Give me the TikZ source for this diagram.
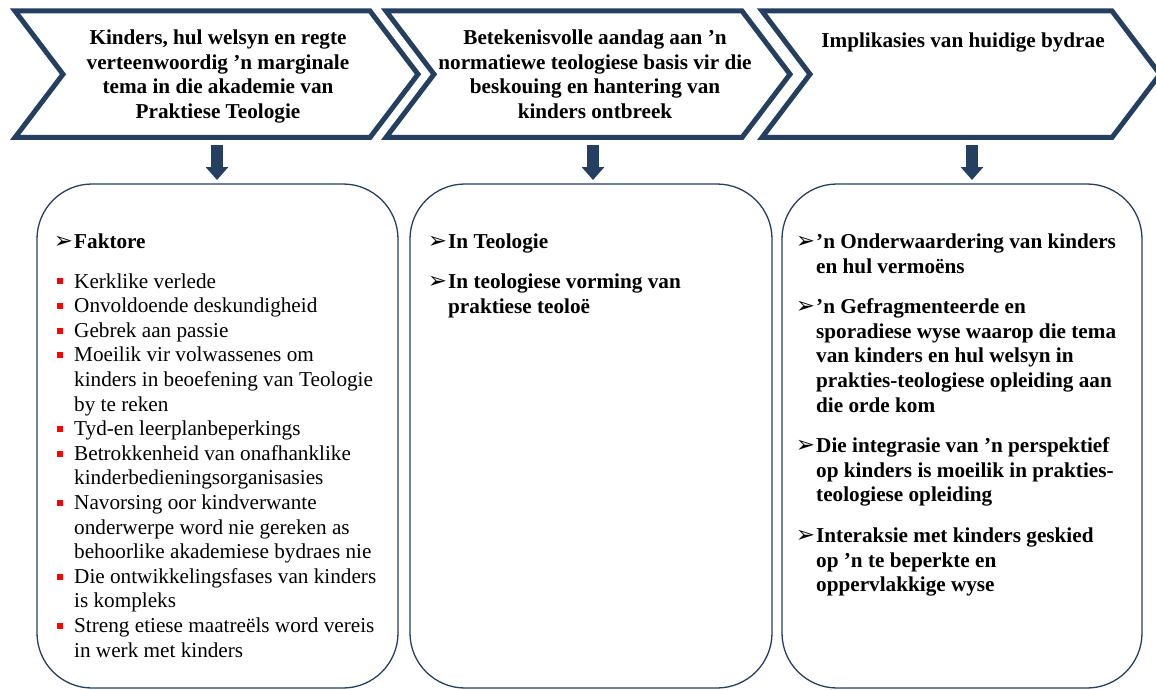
\documentclass[tikz,border=0pt]{standalone}
\usepackage{fontspec}
\setmainfont{Liberation Serif}
\newfontfamily\symfont{DejaVu Sans}
\usetikzlibrary{arrows.meta}
\definecolor{navy}{RGB}{36,63,96}
\definecolor{bulred}{RGB}{255,0,0}
\newcommand\arrbul{\leavevmode\llap{{\symfont\fontsize{23}{23}\selectfont ➢}\hspace{1pt}}}
\newcommand\sqbul{\leavevmode\llap{\textcolor{bulred}{\rule[3.8pt]{6pt}{6pt}}\hspace{11pt}}}
\newcommand\bodyfont{\fontsize{21.2}{24.6}\selectfont}
\tikzset{
  chevron/.style={draw=navy, line width=5pt, miter limit=10, line join=miter},
  roundbox/.style={draw=navy, line width=1.3pt, rounded corners=55pt},
  blockarr/.style={navy, line width=12pt, -{Triangle[length=13pt,width=22pt]}},
  headtxt/.style={anchor=base, inner sep=0pt, font=\bfseries\bodyfont},
  bodytxt/.style={anchor=base west, inner sep=0pt, font=\bodyfont},
}
\begin{document}
\begin{tikzpicture}[x=1pt,y=-1pt]
\useasboundingbox (0,0) rectangle (1156,690);
\clip (0,0) rectangle (1156,690);
% chevrons
\draw[chevron] (15,11) -- (370,11) -- (418,74.25) -- (370,137.5) -- (15,137.5) -- (63,74.25) -- cycle;
\draw[chevron] (386,11) -- (742,11) -- (790,74.25) -- (742,137.5) -- (386,137.5) -- (434,74.25) -- cycle;
\draw[chevron] (762,11) -- (1112,11) -- (1160,74.25) -- (1112,137.5) -- (762,137.5) -- (810,74.25) -- cycle;
% header texts
\node[headtxt] (h1) at (218,44.5) {\parbox[t]{320pt}{\centering
Kinders, hul welsyn en regte\\ verteenwoordig ’n marginale\\ tema in die akademie van\\ Praktiese Teologie}};
\node[headtxt] (h2) at (595,44.5) {\parbox[t]{320pt}{\centering
Betekenisvolle aandag aan ’n\\ normatiewe teologiese basis vir die\\ beskouing en hantering van\\ kinders ontbreek}};
\node[headtxt] (h3) at (963,48) {\parbox[t]{320pt}{\centering
Implikasies van huidige bydrae}};
% boxes
\draw[roundbox] (37,184) rectangle (398,688);
\draw[roundbox] (410,184) rectangle (772,688);
\draw[roundbox] (782,184) rectangle (1142,688);
\node[inner sep=0pt, minimum width=361pt, minimum height=504pt] (b1) at (217.5,436) {};
\node[inner sep=0pt, minimum width=362pt, minimum height=504pt] (b2) at (591,436) {};
\node[inner sep=0pt, minimum width=360pt, minimum height=504pt] (b3) at (962,436) {};
% arrows
\coordinate (a1s) at (217,145); \coordinate (a1e) at (217,180);
\coordinate (a2s) at (593,145); \coordinate (a2e) at (593,180);
\coordinate (a3s) at (972,145); \coordinate (a3e) at (972,180);
\draw[blockarr] (a1s) -- (a1e);
\draw[blockarr] (a2s) -- (a2e);
\draw[blockarr] (a3s) -- (a3e);
% box texts
\node[bodytxt] (t1) at (74,248) {\parbox[t]{320pt}{\bodyfont
\arrbul\textbf{Faktore}\\[15.5pt]
\sqbul Kerklike verlede\\
\sqbul Onvoldoende deskundigheid\\
\sqbul Gebrek aan passie\\
\sqbul Moeilik vir volwassenes om\\
kinders in beoefening van Teologie\\
by te reken\\
\sqbul Tyd-en leerplanbeperkings\\
\sqbul Betrokkenheid van onafhanklike\\
kinderbedieningsorganisasies\\
\sqbul Navorsing oor kindverwante\\
onderwerpe word nie gereken as\\
behoorlike akademiese bydraes nie\\
\sqbul Die ontwikkelingsfases van kinders\\
is kompleks\\
\sqbul Streng etiese maatreëls word vereis\\
in werk met kinders}};
\node[bodytxt] (t2) at (448,248) {\parbox[t]{310pt}{\bodyfont\bfseries
\arrbul In Teologie\\[16pt]
\arrbul In teologiese vorming van\\
praktiese teoloë}};
\node[bodytxt] (t3) at (816,248.5) {\parbox[t]{320pt}{\bodyfont\bfseries
\arrbul ’n Onderwaardering van kinders\\
en hul vermoëns\\[16pt]
\arrbul ’n Gefragmenteerde en\\
sporadiese wyse waarop die tema\\
van kinders en hul welsyn in\\
prakties-teologiese opleiding aan\\
die orde kom\\[16pt]
\arrbul Die integrasie van ’n perspektief\\
op kinders is moeilik in prakties-\\
teologiese opleiding\\[16pt]
\arrbul Interaksie met kinders geskied\\
op ’n te beperkte en\\
oppervlakkige wyse}};
\end{tikzpicture}
\end{document}
